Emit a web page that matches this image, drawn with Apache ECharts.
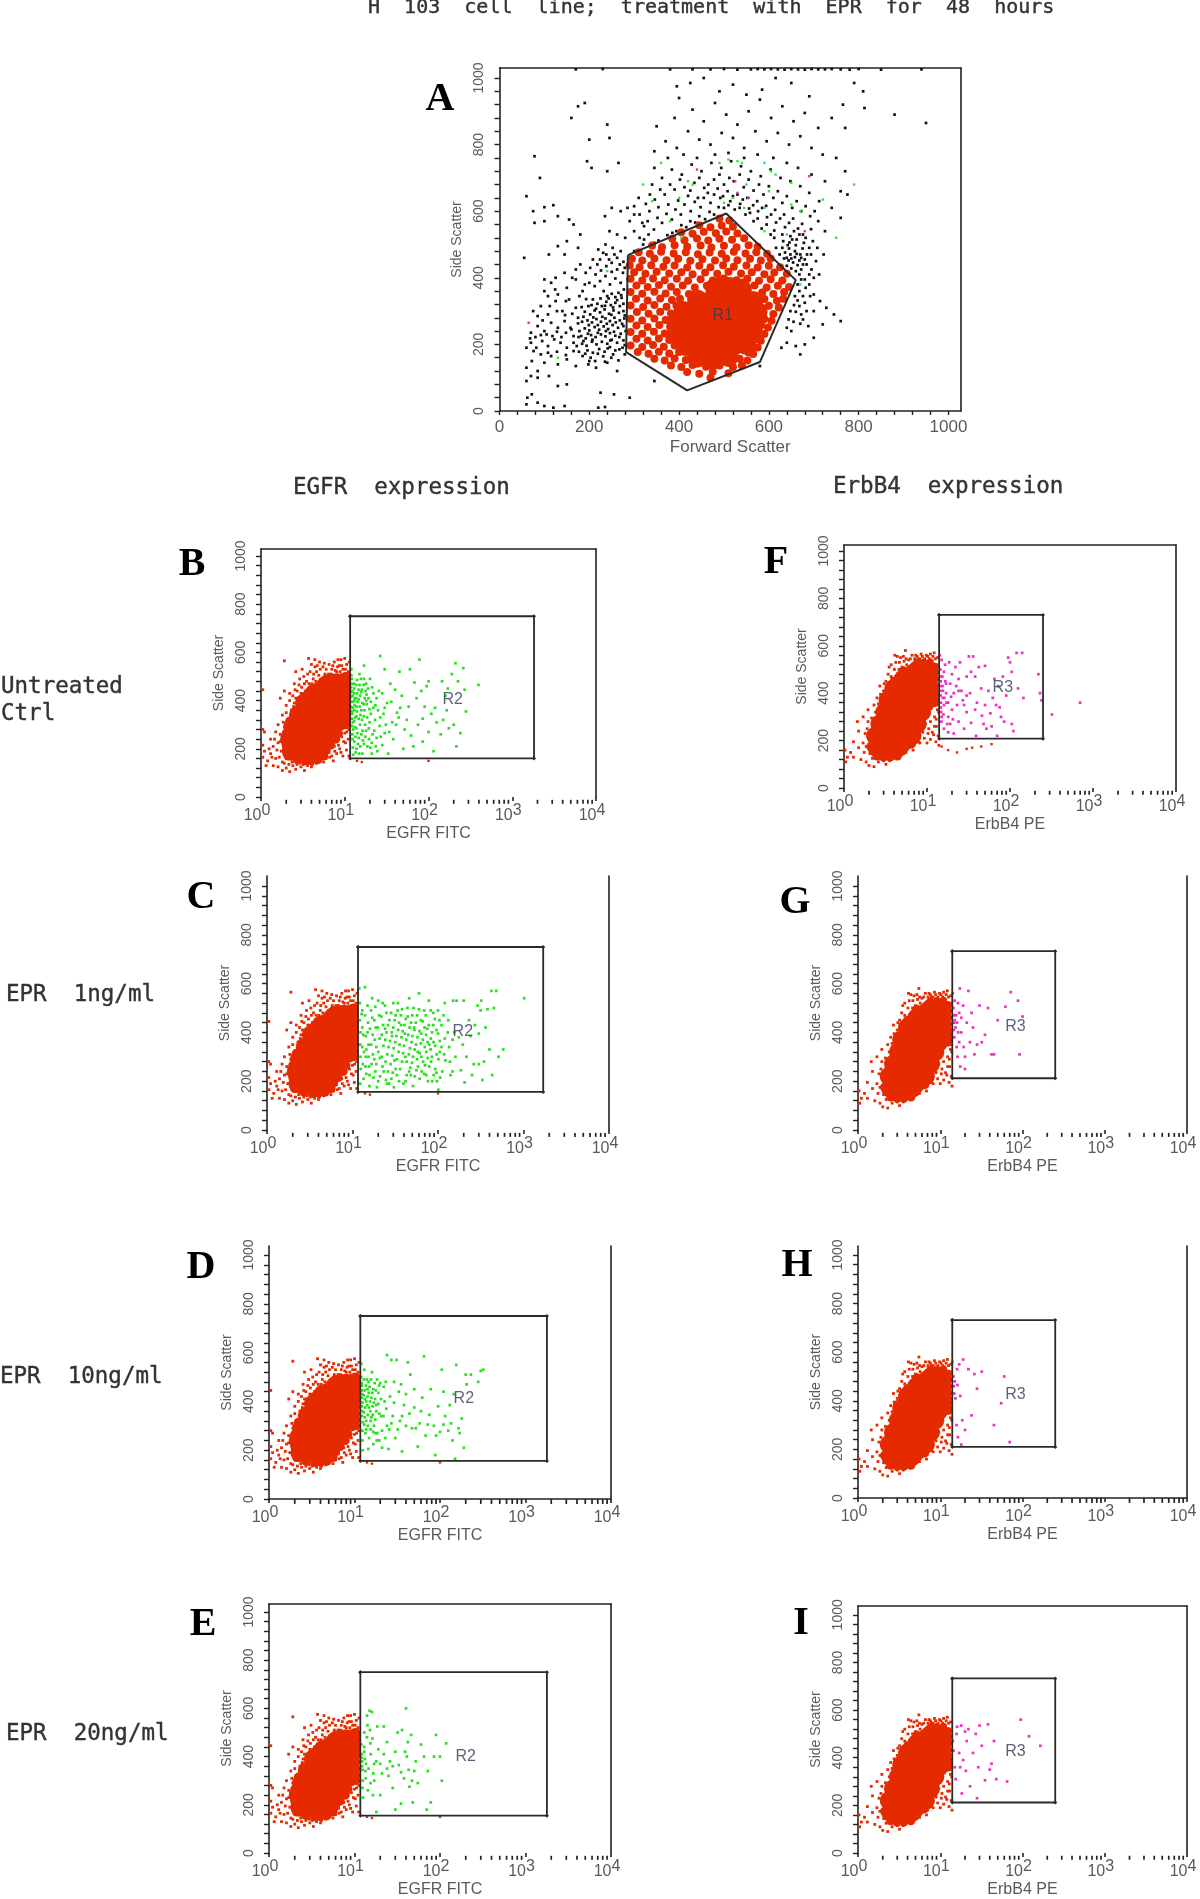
<!DOCTYPE html>
<html><head><meta charset="utf-8">
<style>html,body{margin:0;padding:0;background:#fff}#c{width:1200px;height:1899px}</style>
<script src="https://cdn.jsdelivr.net/npm/echarts@6/dist/echarts.min.js"></script>
</head><body><div id="c"></div>
<script>
const xMajorA=[0,200,400,600,800,1000];
const yMajor=[0,200,400,600,800,1000];
const scaleTicks=[0,40,80,120,160,200,240,280,320,360,400,440,480,520,560,600,640,680,720,760,800,840,880,920,960,1000];
const xMinorLog=[2,3,4,5,6,7,8,9,20,30,40,50,60,70,80,90,200,300,400,500,600,700,800,900,2000,3000,4000,5000,6000,7000,8000,9000];
const exponents=['0','1','2','3','4'];

const gateA=[[286,468],[505,593],[660,393],[580,147],[418,62],[282,177],[286,468]];
const gateB=[[11.6,750],[1820,750],[1820,160],[11.6,160],[11.6,750]];
const gateC=[[11.6,750],[1700,750],[1700,156],[11.6,156],[11.6,750]];
const gateD=[[11.7,750],[1780,750],[1780,156],[11.7,156],[11.7,750]];
const gateE=[[11.7,750],[1780,750],[1780,155],[11.7,155],[11.7,750]];
const gateF=[[14,730],[250,730],[250,208],[14,208],[14,730]];
const gateG=[[14,733],[250,733],[250,212],[14,212],[14,733]];
const gateH=[[14,732],[250,732],[250,210],[14,210],[14,732]];
const gateI=[[14,733],[250,733],[250,212],[14,212],[14,733]];

const coreA=[[440,160],[475,155],[510,162],[415,195],[450,195],[485,190],[520,195],[550,198],[395,230],[430,230],[465,228],[500,232],[535,230],[565,232],[395,265],[430,265],[465,262],[500,268],[535,265],[570,265],[410,300],[445,300],[480,298],[515,302],[550,300],[575,298],[440,335],[475,335],[510,338],[545,335],[565,330],[480,370],[510,372],[540,365]];
const speckleA=[[490,578],[512,572],[445,558],[470,552],[495,557],[520,553],[405,537],[430,532],[455,538],[482,534],[505,539],[530,533],[385,517],[412,513],[440,518],[465,512],[490,517],[518,514],[545,519],[340,497],[362,492],[390,498],[418,493],[448,497],[472,491],[500,496],[528,492],[555,498],[575,493],[310,477],[335,472],[360,478],[388,473],[415,477],[442,471],[468,476],[495,472],[522,478],[548,473],[572,477],[596,472],[295,457],[318,452],[345,458],[372,453],[398,457],[425,451],[452,456],[480,452],[505,458],[530,453],[558,457],[582,452],[604,458],[290,437],[312,432],[338,438],[365,433],[390,437],[418,431],[445,436],[470,432],[498,438],[522,433],[550,437],[575,431],[600,436],[625,432],[300,417],[325,412],[350,418],[378,413],[405,417],[430,411],[458,416],[485,412],[510,418],[538,413],[562,417],[590,411],[612,416],[640,412],[292,397],[318,392],[342,398],[368,393],[395,397],[420,391],[448,396],[475,392],[500,398],[528,393],[552,397],[578,391],[604,396],[630,392],[305,377],[330,372],[355,378],[382,373],[408,377],[435,371],[462,376],[490,392],[515,390],[542,386],[568,377],[595,371],[620,376],[645,372],[292,357],[318,352],[345,358],[370,353],[395,357],[422,351],[585,356],[610,351],[634,357],[304,337],[330,332],[358,338],[384,333],[402,337],[590,336],[618,331],[632,337],[292,317],[320,312],[345,318],[372,313],[394,317],[600,316],[622,311],[306,297],[332,292],[358,298],[382,293],[585,296],[610,291],[292,277],[318,272],[345,278],[370,273],[392,277],[590,276],[606,271],[305,257],[330,252],[356,258],[380,253],[580,256],[598,251],[292,237],[318,232],[344,238],[368,233],[574,236],[590,231],[305,217],[330,212],[355,218],[378,213],[568,216],[582,211],[292,197],[318,192],[342,198],[366,193],[390,197],[560,196],[575,191],[308,177],[332,172],[355,178],[378,173],[400,177],[555,176],[565,171],[345,157],[368,152],[390,158],[415,153],[535,157],[552,152],[382,137],[405,132],[430,138],[460,133],[490,137],[520,132],[540,137],[418,117],[445,112],[475,118],[510,113],[470,100]];
const blackA=[
[272,340],[265,355],[258,342],[250,352],[240,345],[232,360],[276,322],[268,315],[258,325],[248,318],[238,328],[228,315],[218,322],[208,335],[198,315],[276,300],[266,295],[254,302],[244,292],[234,305],[224,296],[212,302],[202,290],[190,298],[278,278],[268,272],[256,280],[246,270],[236,278],[226,268],[216,276],[206,266],[196,272],[184,268],[276,255],[264,250],[252,258],[242,246],[232,254],[222,244],[212,252],[200,242],[190,248],[178,240],[270,232],[258,226],[246,234],[236,224],[226,230],[214,222],[204,228],[192,218],[182,225],[276,212],[262,205],[250,214],[240,202],[228,208],[216,200],[206,208],[194,196],[184,202],[172,195],[274,190],[258,182],[246,192],[234,178],[222,186],[208,175],[196,182],[270,385],[258,398],[246,380],[236,405],[224,390],[212,375],[200,385],[275,415],[262,425],[250,418],[238,435],[226,422],[214,410],[202,430],[276,448],[262,460],[250,445],[238,470],[224,455],[270,480],[252,490],[236,500],[220,485],
[664,380],[672,395],[668,410],[660,420],[650,428],[640,436],[672,425],[664,438],[654,446],[644,452],[634,458],[676,440],[668,452],[658,462],[648,470],[636,476],[624,470],[680,455],[670,470],[658,480],[645,488],[630,490],[685,470],[675,488],[660,498],[646,506],[632,510],[616,490],[690,490],[678,505],[662,515],[648,525],[630,530],[612,520],[668,360],[676,345],[664,332],[658,345],[680,325],[668,315],[656,318],[648,300],[660,298],[672,290],[644,275],[655,268],[670,262],[640,250],[650,240],[690,380],[700,400],[695,425],[705,450],[712,410],[700,350],
[300,480],[320,500],[340,490],[312,520],[332,530],[354,512],[374,528],[394,540],[416,552],[436,566],[458,576],[478,590],[500,610],[524,605],[548,590],[566,570],[584,548],[604,530],[300,540],[322,555],[344,545],[362,565],[384,575],[404,590],[426,600],[448,612],[470,625],[492,640],[514,630],[536,622],[556,608],[576,600],[596,582],[616,566],[636,552],[656,540],[676,530],[290,570],[312,590],[334,600],[354,612],[376,620],[398,632],[420,646],[442,640],[464,655],[486,668],[508,660],[530,650],[552,640],[574,630],[594,616],[614,604],[634,590],[654,578],[674,562],[694,546],[300,615],[326,622],[346,635],[368,650],[390,665],[412,672],[434,685],[456,670],[478,695],[500,680],[522,690],[544,672],[566,662],[588,650],[610,640],[630,625],[652,610],[672,600],[692,585],[710,570],[725,540],[280,520],[262,530],[245,540],[270,600],[250,610],[235,585],[340,680],[362,700],[384,725],[406,710],[428,740],[450,720],[472,745],[494,730],[516,750],[538,735],[560,720],[582,705],[604,725],[626,700],[648,690],[670,675],[690,655],[712,630],[740,610],[760,580],
[345,780],[370,810],[395,790],[420,840],[445,815],[470,800],[495,835],[520,820],[545,790],[570,840],[595,810],[620,835],[645,800],[670,825],[695,790],[720,770],[750,760],[350,855],[390,880],[430,905],[455,870],[480,925],[505,890],[530,860],[555,900],[580,935],[605,880],[630,915],[655,870],[680,895],[710,850],[740,880],[770,850],[400,940],[395,975],[425,985],[455,1000],[490,960],[520,980],[550,950],[585,965],[615,1000],[650,985],[690,945],[765,920],[790,985],[810,960],[813,910],[880,890],[950,865],[175,915],[190,925],[160,880],[240,860],[245,820],[200,815],[195,750],[205,730],[240,720],[265,745],
[60,645],[75,600],[100,612],[120,618],[130,585],[78,565],[100,570],[155,575],[165,560],[180,530],[150,510],[175,490],[55,460],[110,470],[145,470],[130,495],[90,700],[78,765],
[60,190],[70,205],[82,190],[95,210],[108,195],[122,215],[136,205],[150,190],[165,205],[70,235],[85,255],[100,240],[115,265],[130,250],[145,270],[160,245],[175,280],[75,300],[92,315],[108,290],[125,330],[140,300],[155,335],[170,310],[100,360],[115,385],[130,350],[150,370],[170,395],[185,360],[60,130],[72,150],[85,120],[100,145],[115,165],[130,140],[150,155],[170,135],[185,165],[200,150],[215,130],[240,145],[262,120],[60,90],[70,105],[85,100],[110,105],[130,75],[150,80],[62,40],[72,50],[60,20],[85,25],[100,15],[120,10],[145,15],[220,10],[235,12],[225,55],[255,50],[290,40],[345,90],[580,135],
[430,1026],[470,1026],[500,1027],[530,1025],[560,1026],[575,1027],[590,1026],[605,1027],[620,1026],[635,1025],[650,1027],[665,1026],[680,1025],[695,1027],[710,1026],[725,1026],[740,1027],[760,1026],[780,1025],[800,1027],[850,1025],[940,1026],[230,1027],[170,1026],[380,1026]
];
const blackAExtra=[
[277,365],[271,348],[262,333],[253,311],[243,338],[235,316],[225,338],[215,307],[205,318],[193,336],[183,312],[279,287],[273,262],[259,266],[249,289],[239,262],[229,283],[219,258],[209,281],[199,258],[187,283],[175,263],[281,240],[267,222],[255,238],[247,212],[237,240],[219,235],[207,214],[197,232],[187,210],[176,222],[279,198],[267,185],[253,170],[241,188],[231,164],[219,172],[203,160],[191,172],[177,178],[279,170],[265,152],[249,160],[235,148],[213,150],[198,140],[165,225],[158,250],[148,235],[138,222],[128,238],[118,225],[105,230],[92,228],[80,222],[68,218],[165,180],[148,168],[128,178],[108,175],[92,170],[76,180],[162,292],[146,288],[128,300],[112,315],[96,272],[85,285],[148,330],[124,365],[108,345],[178,345],[190,380],[162,400],[145,415],[125,400],[100,395],[285,395],[279,430],[268,440],[256,470],[244,455],[231,475],[218,440],[208,455],[192,415],[180,440],[170,425],
[640,460],[650,458],[662,472],[672,460],[684,440],[694,470],[642,498],[652,515],[668,530],[682,520],[698,510],[708,490],[722,470],[690,410],[680,395],[682,370],[692,345],[684,300],[676,275],[688,255],[700,300],[714,330],[728,310],[745,290],[760,270],[720,260],[700,220],[680,200],[660,195],[640,205],[628,190],[670,170],
[322,515],[345,505],[365,498],[385,535],[405,558],[425,570],[445,585],[468,598],[488,612],[510,618],[535,610],[558,595],[575,578],[595,560],[612,542],[330,570],[352,580],[372,592],[392,605],[412,620],[435,628],[455,640],[478,650],[498,645],[520,645],[542,635],[565,618],[585,610],[605,590],[625,578],[645,565],[665,548],[310,640],[335,650],[358,665],[380,680],[402,695],[425,662],[445,700],[465,680],[490,710],[512,700],[535,710],[555,695],[578,680],[600,675],[620,660],[640,645],[662,630],[682,615],[702,600],[318,565],[300,590],[285,610],[345,730],[375,760],[410,770],[440,760],[480,770],[510,775],[545,760],[575,770],[610,760],[640,745],[665,730],[695,710],[725,690],[760,660],[770,720],[775,650]
];
const greenA=[[360,745],[320,680],[340,630],[400,640],[420,690],[430,680],[380,570],[405,520],[490,745],[510,755],[530,750],[540,745],[590,745],[605,720],[615,710],[650,685],[650,620],[670,600],[720,635],[790,680],[750,520],[670,380],[640,530],[590,540],[555,640],[545,610],[500,625],[520,640],[590,610],[600,660],[550,680],[240,420],[130,160]];
const pinkA=[[65,265],[440,725],[525,690],[555,640],[690,705],[680,540],[530,655]];

const coreEGFR=[[2.3,190],[2.8,190],[3.4,190],[4.2,190],[5,190],[2.2,240],[2.7,240],[3.3,240],[4,240],[5,240],[6,240],[2.4,290],[3,290],[3.7,290],[4.6,290],[5.7,290],[7,290],[2.8,340],[3.4,340],[4.2,340],[5.2,340],[6.4,340],[7.8,340],[8.8,340],[3.3,390],[4.1,390],[5,390],[6.2,390],[7.6,390],[8.8,390],[4.3,430],[5.3,430],[6.5,430],[7.8,430],[8.8,430],[6,465],[7.2,465],[8.5,465]];
const coreSmallEGFR=[[10.3,300],[10.3,325],[10.3,350],[10.3,375],[10.3,400],[10.3,425],[10.3,450],[10.3,475],[10.3,500],[9.2,495],[8,495],[7,495],[6,490],[5.2,470],[4.6,455],[3.8,425],[3.4,420],[3,390],[2.5,345],[2.2,315],[2,265],[2,215],[8.4,265],[9.2,295],[7.8,240],[6.8,215],[6,195],[5.6,170],[4.8,155],[4,150],[3.4,150],[2.7,155],[2.1,170]];
const fringeEGFR=[[1.05,445],[1.05,280],[1.1,270],[1.05,215],[1.1,190],[1.05,165],[1.15,130],[1.2,150],[1.3,180],[1.4,130],[1.4,210],[1.5,160],[1.3,240],[1.5,270],[1.6,300],[1.6,125],[1.7,230],[1.8,340],[1.9,290],[1.9,140],[1.8,110],[2,120],[2.2,105],[2.4,130],[2.6,115],[3,125],[3.3,110],[3.6,130],[4,125],[4.6,140],[1.7,410],[1.9,440],[2,380],[2.2,430],[2.3,320],[2.5,390],[2.5,470],[2.6,520],[2.7,440],[2.9,490],[1.9,565],[3,430],[3.1,530],[3.3,470],[3.6,510],[3.7,575],[3.9,450],[4,550],[4.2,490],[4.4,570],[4.6,520],[5,560],[5.2,470],[5.5,540],[5.8,510],[6.2,490],[6.5,550],[7,530],[7.5,560],[8,520],[8.3,570],[8.6,545],[9,570],[9.5,530],[10,575],[10.5,550],[11,520],[11.3,560],[5.5,170],[6,160],[6.5,185],[7,170],[7.5,210],[7.8,230],[8,180],[8.3,260],[8.7,200],[9,290],[9.5,170],[9.7,230],[10,265],[10.5,195],[10.8,300],[11,240],[11.2,170],[11.4,320],[7.3,150],[5.6,145],
[1.25,200],[1.35,165],[1.45,240],[1.55,195],[1.6,225],[1.65,165],[1.7,260],[1.75,190],[1.8,145],[1.85,310],[1.95,210],[2,350],[2.05,160],[2.1,300],[2.15,135],[2.2,400],[2.3,360],[2.35,145],[2.4,420],[2.45,375],[2.55,445],[2.6,410],[2.7,135],[2.8,400],[2.85,465],[2.95,140],[3.05,455],[3.2,135],[3.25,500],[3.4,440],[3.5,480],[3.6,140],[3.75,470],[3.85,520],[4.05,470],[4.1,135],[4.25,510],[4.4,540],[4.5,480],[4.7,545],[4.9,505],[5.1,530],[5.4,490],[5.7,555],[6,530],[6.4,510],[6.8,510],[7.2,545],[7.7,525],[8.2,540],[8.8,520],[9.2,545],[9.8,510],[10.2,530],[10.8,510],[11.2,490],[11.3,465],[11.4,440],[11.4,410],[11.4,380],[11.4,350],[11.2,280],[10.6,270],[10.2,225],[9.2,250],[6.6,165],[7.6,190],[8.4,215],[9,185]];
const outliersEGFR=[[16,145],[100,150],[14,150]];
const coreErbB=[[2.5,170],[3,170],[3.6,170],[4.5,170],[2.4,220],[2.9,220],[3.5,220],[4.4,220],[5.5,220],[6.6,220],[2.7,270],[3.3,270],[4,270],[5,270],[6.2,270],[7.6,270],[3.1,320],[3.7,320],[4.5,320],[5.6,320],[7,320],[8.6,320],[3.4,370],[4.1,370],[5,370],[6.2,370],[7.8,370],[9.5,370],[4,420],[4.8,420],[5.8,420],[7.2,420],[8.8,420],[10.3,420],[5.2,460],[6.2,460],[7.6,460],[9.2,460],[10.3,460],[7.5,495],[9,495],[10.3,495]];
const coreSmallErbB=[[12.2,360],[12.2,385],[12.2,410],[12.2,435],[12.2,460],[12.2,485],[12.2,510],[10.6,525],[9,525],[7.6,525],[6.3,500],[5.2,495],[4.6,465],[4,450],[3.5,420],[3,370],[2.8,320],[2.4,270],[2.1,220],[2.1,175],[2.5,135],[3,130],[3.6,130],[4.4,135],[5.4,170],[6.4,185],[7.4,225],[8.4,270],[9.4,315],[10.6,345]];
const fringeErbB=[[1.03,160],[1.1,130],[1.05,110],[1.2,150],[1.3,195],[1.3,130],[1.45,280],[1.5,240],[1.5,170],[1.6,120],[1.7,190],[1.7,300],[1.75,150],[1.85,110],[1.9,250],[1.95,330],[2,95],[2.2,125],[2.3,350],[2.3,90],[2.5,380],[2.6,110],[2.7,430],[3,115],[3,410],[3.2,450],[3.2,100],[3.5,130],[3.5,510],[3.7,470],[3.9,140],[4.1,560],[4.2,530],[4.3,150],[4.6,500],[4.8,550],[5,150],[5.3,535],[5.5,580],[5.7,520],[6,170],[6.3,545],[6.8,525],[7,180],[7.3,560],[7.8,545],[8.2,190],[8.5,565],[9,540],[9.3,210],[9.8,560],[10,190],[10.5,250],[10.7,545],[11,565],[11,280],[11.6,535],[12,225],[12.2,570],[12.3,300],[12.8,195],[13,260],[13.2,350],[13.4,550],[13.6,220],[13.8,320],[13.9,180],
[1.8,230],[1.85,175],[1.95,280],[2,210],[2.05,145],[2.15,295],[2.2,250],[2.25,165],[2.4,320],[2.45,125],[2.6,355],[2.7,140],[2.75,395],[2.85,340],[2.9,120],[3.05,440],[3.15,130],[3.3,420],[3.4,480],[3.55,115],[3.7,520],[3.85,440],[4.05,500],[4.2,470],[4.4,555],[4.65,530],[5,510],[5.2,555],[5.6,545],[6,540],[6.6,560],[7.1,545],[7.6,555],[8.2,545],[8.8,555],[9.4,545],[10.2,555],[11.2,540],[11.8,555],[12.6,545],[13.2,520],[13.4,490],[13.5,460],[13.6,430],[13.6,395],[13.5,370],[13.3,330],[12.9,290],[12.3,260],[11.6,235],[11,205],[10.3,230],[9.6,270],[8.9,235],[7.8,195],[6.8,160],[5.6,150]];
const outliersErbB=[[15,175],[18,160],[23,150],[30,165],[35,170],[45,175],[60,185]];

const greenB=[[12,530],[12,505],[12.2,470],[12.3,440],[12.4,420],[12.6,395],[12.4,370],[12.3,345],[12.5,310],[12.6,280],[12.4,240],[12.5,205],[12.6,175],[13,450],[13.2,410],[13.1,380],[13.3,330],[13.2,290],[13.4,250],[13.5,185],[14,485],[14,430],[14.2,395],[14,355],[14.2,265],[14.4,220],[15,510],[15,465],[15.2,420],[15.1,375],[15.4,340],[15.2,300],[15.3,210],[16,445],[16.2,390],[16.1,320],[16.3,275],[16.5,235],[16.2,180],[17,545],[17,490],[17.3,410],[17.2,360],[17.5,300],[17.6,250],[18,470],[18.2,425],[18.3,385],[18.5,330],[18.6,210],[19,450],[19.4,285],[19.5,240],[20,490],[20.5,395],[20.5,345],[21,225],[21,180],[22,430],[22,370],[22.5,275],[23,320],[24,410],[24,245],[24.5,190],[25,360],[26,295],[26.5,585],[28,430],[28,215],[29,345],[30,530],[30,265],[32,390],[33,180],[35,470],[37,310],[38,240],[40,445],[42,350],[44,330],[45,520],[48,420],[50,200],[52,280],[58,375],[60,530],[62,255],[68,475],[75,300],[78,570],[82,440],[85,230],[90,375],[100,480],[100,270],[108,345],[115,190],[125,310],[140,260],[145,480],[160,420],[165,360],[175,285],[190,510],[210,555],[215,210],[225,480],[240,265],[260,535],[270,445],[280,355],[395,465],
[11.9,455],[11.9,435],[11.9,415],[11.9,395],[11.9,375],[12.1,490],[12.2,355],[12.2,325],[12.2,295],[12.3,260],[12.9,470],[12.9,430],[13,400],[13,360],[13,315],[13,230],[13.7,465],[13.7,410],[13.8,375],[13.8,335],[13.8,285],[13.8,200],[14.6,445],[14.7,405],[14.7,325],[14.7,245],[14.8,180],[15.6,490],[15.7,435],[15.8,360],[15.8,260],[16.8,465],[16.9,385],[16.9,335],[16.9,220],[17.7,440],[18,400],[18,275],[19.2,410],[19.7,365],[19.8,310],[20.2,205],[21.2,455],[21.5,260],[23.2,380],[23.5,210],[25.5,440],[26.5,330],[27,250],[30,370],[31,300],[34,270],[36,395],[41,300],[46,370],[55,320],[66,210],[72,410],[85,325],[95,460],[120,370],[150,320],[200,300],[170,450]];
const greenC=[[12,580],[12.2,520],[12.2,450],[12.4,400],[12.3,350],[12.4,300],[12.5,250],[12.3,190],[12.8,475],[13,420],[13,340],[13.2,270],[13.5,210],[14,585],[14,470],[14.3,385],[14.3,300],[14.5,230],[15,510],[15.2,440],[15.4,350],[15.6,260],[15.8,180],[17,540],[17,460],[17.2,390],[17.3,310],[17.6,215],[18.5,505],[18.7,420],[19,340],[19,270],[19.3,175],[20.5,470],[20.7,375],[21,295],[21,220],[22.5,520],[22.8,430],[23,345],[23.2,240],[25,480],[25,400],[25.5,310],[25.5,190],[27,450],[27.5,365],[28,270],[28.5,210],[30,520],[30,420],[30.3,335],[30.5,175],[32,470],[32.5,385],[33,290],[33,225],[35,440],[35.5,350],[36,250],[38,495],[38.5,405],[39,315],[39.5,190],[42,455],[42.5,370],[43,280],[43,225],[46,540],[46.5,420],[47,335],[47.5,255],[50,470],[50,385],[51,300],[51,180],[55,440],[55.5,350],[56,245],[60,560],[60,495],[60.5,405],[61,315],[61,210],[66,445],[66.5,370],[67,280],[72,470],[72.5,390],[73,320],[73,225],[78,530],[78,430],[79,350],[79,260],[85,400],[85,300],[85.5,200],[92,455],[92.5,345],[93,250],[100,490],[100,395],[101,290],[101,165],[110,430],[110,340],[112,240],[120,520],[120,375],[122,285],[132,450],[135,340],[140,225],[150,530],[155,400],[160,300],[165,530],[175,380],[185,245],[195,350],[200,530],[205,195],[215,300],[230,450],[240,385],[250,225],[262,270],[270,430],[290,510],[300,395],[300,270],[315,490],[320,530],[330,205],[345,280],[360,420],[380,495],[400,330],[420,570],[430,225],[450,500],[480,570],[510,300],[580,330],[1020,540],[14.5,330],[16,415],[18,290],[20,530],[22,300],[24,415],[26,240],[29,385],[31,285],[34,520],[37,430],[40,345],[44,500],[48,225],[53,410],[57,290],[63,355],[69,230],[75,415],[82,330],[88,480],[96,235],[105,365],
[13,490],[13.4,390],[13.6,320],[14.2,260],[15,400],[15.4,300],[15.8,225],[16.5,490],[16.5,350],[16.7,270],[18,450],[18.2,370],[18.5,240],[19.8,420],[20,320],[20,200],[21.8,465],[22,390],[22.4,260],[24,510],[24.2,370],[24.4,280],[24.6,205],[26,430],[26.4,340],[26.8,190],[28.3,480],[28.8,400],[29.2,305],[29.6,235],[31.2,450],[31.6,360],[32,250],[33.8,490],[34.2,410],[34.6,320],[35,200],[36.8,470],[37.4,380],[38,280],[40.4,430],[41,395],[41.5,300],[41.8,200],[44.4,465],[45,390],[45.6,310],[46,240],[48.5,440],[49,360],[49.6,275],[52,500],[52.6,420],[53.2,330],[53.6,220],[57,470],[57.6,380],[58,320],[58.4,260],[63,450],[63.6,395],[64,300],[64.4,240],[69,490],[69.6,420],[70,340],[70.4,265],[75.6,360],[76,295],[76.4,200],[82,490],[82.4,375],[83,280],[88,430],[88.6,360],[89,225],[96,410],[96.6,310],[97,200],[104,450],[105,320],[106,215],[116,470],[118,310],[130,400],[138,280],[148,370],[148,240]];
const greenD=[[12,555],[12,500],[12.2,465],[12.3,430],[12.4,395],[12.3,360],[12.5,315],[12.4,280],[12.4,240],[12.5,200],[13,530],[13.1,445],[13.2,410],[13.3,375],[13.2,335],[13.4,270],[14,490],[14.2,450],[14.2,420],[14.1,385],[14.3,345],[14.3,300],[14.5,205],[15,460],[15.2,400],[15.3,360],[15.4,320],[15.4,285],[16,520],[16.1,435],[16.3,380],[16.4,345],[16.5,275],[16.6,225],[17.2,475],[17.4,410],[17.5,325],[17.6,270],[18,360],[18.4,490],[18.5,270],[19,435],[19,390],[19.5,240],[20,475],[20.5,340],[21,280],[21,210],[22,460],[22.5,400],[23,250],[24,590],[24,300],[25,205],[26,420],[27,570],[28,340],[29,480],[30,250],[31,570],[33,440],[34,320],[35,470],[36,195],[38,385],[40,300],[42,560],[45,510],[47,290],[50,375],[50,450],[55,215],[58,310],[62,415],[65,585],[68,260],[75,345],[78,450],[85,300],[88,180],[95,380],[100,275],[105,530],[110,440],[115,340],[125,280],[135,310],[145,430],[150,165],[155,550],[170,270],[180,330],[190,210],[200,510],[205,470],[230,510],[300,525],[320,530],[280,480],[130,385],[165,290],
[12.1,475],[12.1,445],[12.1,415],[12.2,380],[12.2,340],[12.9,490],[12.9,425],[12.9,355],[13,305],[13.6,465],[13.7,400],[13.7,320],[13.7,285],[14.6,480],[14.7,435],[14.8,375],[14.8,250],[15.6,490],[15.8,415],[15.8,335],[16.6,450],[16.8,395],[16.9,300],[17.8,445],[17.9,385],[18.2,240],[19.4,465],[19.5,350],[20.4,410],[21.8,340],[23.2,480],[23.5,370],[25.5,285],[27,310],[29,395],[32,285],[36,340],[40,430],[44,350],[52,290],[60,360],[72,305],[90,260],[110,305],[140,240]];
const greenE=[[12,450],[12.2,410],[12.3,380],[12.4,345],[12.5,300],[12.4,270],[12.6,230],[13,500],[13,440],[13.2,390],[13.4,340],[13.5,310],[14,570],[14.2,530],[14,480],[14.3,260],[15,590],[15.2,510],[15.3,455],[15.4,290],[16,585],[16.2,475],[16.4,240],[17,370],[17,300],[18,170],[18.5,525],[19,430],[20,370],[20,240],[22,525],[22,410],[24,460],[25,320],[26,380],[28,270],[30,420],[30,180],[32,500],[33,365],[35,205],[36,510],[38,310],[39,420],[40,600],[42,460],[43,345],[44,275],[46,490],[48,210],[52,380],[55,290],[60,450],[65,400],[70,180],[72,340],[78,210],[85,400],[90,490],[100,400],[105,300],[118,455],[12.1,395],[12.3,360],[13,420],[13.6,370],[14.6,350],[15.5,410],[16.6,330],[18,380],[21,330],[24,350],[28,360],[35,335],[41,400],[47,300],[50,340]];
const pinkF=[[14.3,560],[14.5,500],[14.6,450],[14.5,410],[14.7,360],[14.8,320],[14.9,280],[15,540],[15.3,470],[15.4,430],[15.5,380],[15.8,310],[16,250],[16.5,520],[16.6,450],[17,400],[17.2,360],[17.5,270],[18,235],[18.5,530],[19,440],[19.5,385],[20,330],[20.5,290],[21,230],[22,510],[22.5,430],[23,350],[24,280],[25,530],[26,410],[27,370],[28,250],[30,320],[30,470],[32,555],[33,400],[34,275],[36,555],[38,470],[39,220],[40,360],[42,510],[45,420],[46,305],[50,515],[52,250],[55,410],[58,315],[60,260],[65,460],[68,350],[70,220],[75,340],[78,300],[82,470],[85,280],[90,390],[95,550],[100,530],[105,270],[105,490],[110,240],[120,570],[125,420],[140,570],[145,380],[220,480],[230,400],[240,370],[16,350],[18,300],[20,480],[24,460],[28,350],[34,490],[48,270],[62,380],[72,430],[320,310],[700,360],[14.4,470],[14.5,430],[14.6,390],[14.7,340],[15,300],[15.6,410],[16,490],[16.2,380],[17,440],[18,360],[19,270],[21,400],[24,410],[30,390],[38,330],[50,350]];
const pinkG=[[14.2,560],[14.5,500],[14.6,470],[14.7,440],[14.6,410],[14.8,380],[15,530],[15,450],[15.3,420],[15.6,470],[15.8,340],[16,440],[16.2,300],[16.5,400],[17,480],[17.3,580],[17,360],[17.5,260],[18,460],[18,400],[19,510],[19.3,340],[20,250],[21,440],[22,570],[23,360],[24,480],[25,420],[26,310],[28,350],[30,510],[32,360],[35,390],[38,500],[42,310],[50,450],[62,505],[72,565],[88,530],[92,310],[100,465],[45,310],[20,300],[16.4,520]];
const pinkH=[[14,560],[14.5,500],[14.6,460],[14.8,430],[15,480],[15.3,410],[15.8,300],[16,530],[16.2,465],[16.4,250],[17,550],[17.5,420],[18,220],[18.5,320],[19,570],[20,280],[22,530],[24,340],[26,510],[28,450],[32,520],[45,300],[55,390],[60,500],[70,230]];
const pinkI=[[14.2,470],[14.5,430],[15,360],[15.4,310],[15.8,500],[16,530],[17,420],[17.5,360],[18,535],[18.3,250],[19,390],[20,510],[20.5,345],[21,470],[22,520],[23,280],[25,420],[27,500],[28,230],[29,360],[30,535],[32,450],[35,305],[38,540],[40,350],[42,375],[45,470],[48,310],[65,300],[95,560],[120,490],[165,450]];

const panels=[
 {id:'A',left:499.5,right:961,top:68,y0:411,yMax:1030,log:false,top_:true,bottom:true,gate:gateA,name:'Forward Scatter',label:'R1',lx:497,ly:287,fsX:17,nameGap:28},
 {id:'B',left:261,right:596,top:549,y0:797,yMax:1029,log:true,top_:true,bottom:false,gate:gateB,name:'EGFR FITC',label:'R2',lx:195,ly:405,core:coreEGFR,small:coreSmallEGFR,fringe:fringeEGFR,extra:outliersEGFR,dots:greenB,color:'#28e020'},
 {id:'C',left:267,right:609,top:876,y0:1130,yMax:1041,log:true,top_:false,bottom:false,gate:gateC,name:'EGFR FITC',label:'R2',lx:195,ly:405,core:coreEGFR,small:coreSmallEGFR,fringe:fringeEGFR,extra:outliersEGFR,dots:greenC,color:'#28e020'},
 {id:'D',left:269,right:611,top:1246,y0:1499,yMax:1037,log:true,top_:false,bottom:true,gate:gateD,name:'EGFR FITC',label:'R2',lx:190,ly:410,core:coreEGFR,small:coreSmallEGFR,fringe:fringeEGFR,extra:outliersEGFR,dots:greenD,color:'#28e020'},
 {id:'E',left:269,right:611,top:1604,y0:1857,yMax:1033,log:true,top_:true,bottom:false,gate:gateE,name:'EGFR FITC',label:'R2',lx:200,ly:398,core:coreEGFR,small:coreSmallEGFR,fringe:fringeEGFR,extra:outliersEGFR,dots:greenE,color:'#28e020'},
 {id:'F',left:844,right:1176,top:545,y0:788,yMax:1025,log:true,top_:true,bottom:false,gate:gateF,name:'ErbB4 PE',label:'R3',lx:82,ly:425,core:coreErbB,small:coreSmallErbB,fringe:fringeErbB,extra:outliersErbB,dots:pinkF,color:'#f030c0'},
 {id:'G',left:858,right:1187,top:876,y0:1130,yMax:1041,log:true,top_:false,bottom:false,gate:gateG,name:'ErbB4 PE',label:'R3',lx:82,ly:425,core:coreErbB,small:coreSmallErbB,fringe:fringeErbB,extra:[],dots:pinkG,color:'#f030c0'},
 {id:'H',left:858,right:1187,top:1246,y0:1498,yMax:1037,log:true,top_:false,bottom:true,gate:gateH,name:'ErbB4 PE',label:'R3',lx:82,ly:425,core:coreErbB,small:coreSmallErbB,fringe:fringeErbB,extra:[],dots:pinkH,color:'#f030c0'},
 {id:'I',left:858,right:1187,top:1606,y0:1858,yMax:1037,log:true,top_:true,bottom:false,gate:gateI,name:'ErbB4 PE',label:'R3',lx:82,ly:425,core:coreErbB,small:coreSmallErbB,fringe:fringeErbB,extra:[],dots:pinkI,color:'#f030c0'}
];
const letters=[['A',440,100],['B',192,565],['F',776,563],['C',201,898],['D',201,1268],['E',203,1625],['G',795,903],['H',797,1266],['I',801,1624]];
const texts=[
 ['H  103  cell  line;  treatment  with  EPR  for  48  hours',368,8,20],
 ['EGFR  expression',293,488,22.5],['ErbB4  expression',833,487,22.5],
 ['Untreated',1,687,22.5],['Ctrl',1,714,22.5],['EPR  1ng/ml',6,995,22.5],['EPR  10ng/ml',0,1377,22.5],['EPR  20ng/ml',6,1734,22.5]
];

const GREY='#5a5a5a', INK='#222', RED='#e62a00';
const grid=[],xAxis=[],yAxis=[],series=[];
panels.forEach((p,i)=>{
  grid.push({left:p.left,top:p.top,width:p.right-p.left,height:p.y0-p.top});
  const xi=xAxis.length, yi=yAxis.length;
  xAxis.push(Object.assign({gridIndex:i,position:'bottom',name:p.name,nameLocation:'middle',nameGap:p.nameGap||29,
    nameTextStyle:{color:GREY,fontSize:p.fsX||16,fontFamily:'Liberation Sans'},
    splitLine:{show:false},
    axisLine:{show:p.bottom,onZero:false,lineStyle:{color:INK,width:1.6}},
    axisTick:{show:true,length:4,lineStyle:{color:INK,width:1.6}}},
    p.log?{type:'log',logBase:10,min:1,max:10000,
      axisLabel:{margin:6,padding:[0,8,0,0],color:GREY,fontFamily:'Liberation Sans',fontSize:16,
        formatter:v=>'{b|10}{s|'+exponents[Math.round(Math.log10(v))]+'}',
        rich:{b:{fontSize:16,color:GREY,fontFamily:'Liberation Sans'},s:{fontSize:16,color:GREY,fontFamily:'Liberation Sans',padding:[0,0,9,0]}}}}
    :{type:'value',min:0,max:1028,
      axisTick:{show:true,length:4,customValues:scaleTicks,lineStyle:{color:INK,width:1.4}},
      axisLabel:{customValues:xMajorA,margin:8,color:GREY,fontFamily:'Liberation Sans',fontSize:17,formatter:v=>String(v)}}));
  yAxis.push({gridIndex:i,type:'value',min:0,max:p.yMax,name:'Side Scatter',nameLocation:'middle',nameGap:35,
    nameTextStyle:{color:GREY,fontSize:14,fontFamily:'Liberation Sans'},
    splitLine:{show:false},
    axisLine:{show:true,onZero:false,lineStyle:{color:INK,width:1.6}},
    axisTick:{show:true,length:5,customValues:scaleTicks,lineStyle:{color:INK,width:1.4}},
    axisLabel:{customValues:yMajor,rotate:90,margin:13,color:GREY,fontSize:14,fontFamily:'Liberation Sans',align:'center',verticalAlign:'bottom',formatter:v=>String(v)}});
  yAxis.push({gridIndex:i,type:'value',position:'right',min:0,max:p.yMax,splitLine:{show:false},axisTick:{show:false},axisLabel:{show:false},
    axisLine:{show:true,onZero:false,lineStyle:{color:INK,width:1.6}}});
  if(p.top_) xAxis.push({gridIndex:i,type:'value',position:'top',min:0,max:1,splitLine:{show:false},axisTick:{show:false},axisLabel:{show:false},
    axisLine:{show:true,onZero:false,lineStyle:{color:INK,width:1.6}}});
  const pts=(data,color,size,sym,z)=>series.push({type:'scatter',xAxisIndex:xi,yAxisIndex:yi,data,symbol:sym||'rect',symbolSize:size,clip:false,z:z||2,silent:true,itemStyle:{color,opacity:1},animation:false});
  if(p.log){
    pts(p.core,RED,19,'circle',2);
    pts(p.small,RED,9,'circle',2);
    pts(p.fringe,RED,2.8);
    if(p.extra.length) pts(p.extra,RED,2.4);
    pts(p.dots,p.color,2.7,'rect',3);
    pts(xMinorLog.map(v=>[v,p.bottom?-10:-20]),INK,[1.7,p.bottom?5:4],'rect',4);
  } else {
    pts(blackA.concat(blackAExtra),'#111',2.7);
    pts(coreA,RED,20,'circle',2);
    pts(speckleA,RED,8,'circle',2);
    pts(greenA,'#3ae23a',2.4,'rect',3);
    pts(pinkA,'#e030b0',2.4,'rect',3);
  }
  series.push({type:'line',xAxisIndex:xi,yAxisIndex:yi,data:p.gate,showSymbol:p.log,symbol:'diamond',symbolSize:4,silent:true,z:5,animation:false,
    lineStyle:{color:'#2a2a2a',width:p.log?1.8:2},itemStyle:{color:'#2a2a2a'}});
  series.push({type:'scatter',xAxisIndex:xi,yAxisIndex:yi,data:[[p.lx,p.ly]],symbolSize:0,z:6,silent:true,animation:false,
    label:{show:true,position:'inside',formatter:p.label,color:'#333a55',fontSize:16,fontFamily:'Liberation Sans'}});
});
const graphic=[];
letters.forEach(l=>graphic.push({type:'text',x:l[1],y:l[2],z:20,style:{text:l[0],font:'bold 40px "Liberation Serif"',fill:'#000',textAlign:'center',textVerticalAlign:'middle'}}));
texts.forEach(t=>graphic.push({type:'text',x:t[1],y:t[2],z:20,style:{text:t[0],font:t[3]+'px "DejaVu Sans Mono"',fill:'#333',stroke:'#333',lineWidth:0.4,textAlign:'left',textVerticalAlign:'middle'}}));
const chart=echarts.init(document.getElementById('c'),null,{renderer:'canvas'});
chart.setOption({animation:false,backgroundColor:'#fff',grid,xAxis,yAxis,series,graphic,tooltip:{show:false}});
</script></body></html>
